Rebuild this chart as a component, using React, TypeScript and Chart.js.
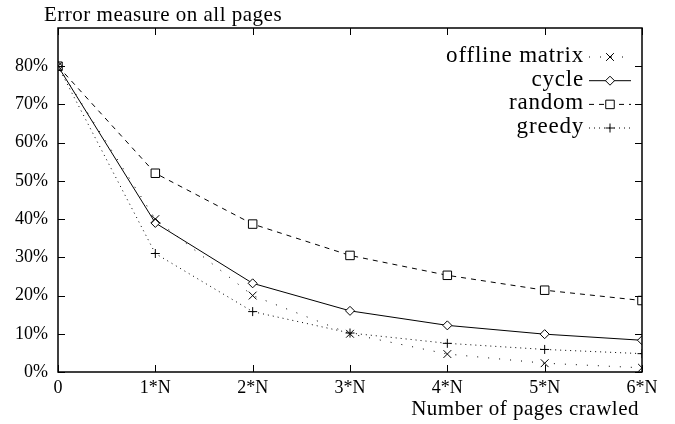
import React, { useEffect, useRef } from "react";
import { Chart, registerables } from "chart.js";

Chart.register(...registerables);

const xValues = [0, 1, 2, 3, 4, 5, 6];
const offlineMatrix = [80, 40, 20, 10, 4.7, 2.3, 1.1];
const cycle = [80, 39, 23.2, 16, 12.2, 9.9, 8.3];
const random = [80, 52, 38.7, 30.5, 25.3, 21.4, 18.7];
const greedy = [80, 31, 15.8, 10.2, 7.5, 5.9, 4.8];
const seriesNames = ["offline matrix", "cycle", "random", "greedy"];
const xTickLabels = ["0", "1*N", "2*N", "3*N", "4*N", "5*N", "6*N"];
const yTickLabels = ["0%", "10%", "20%", "30%", "40%", "50%", "60%", "70%", "80%"];
const chartTitle = "Error measure on all pages";
const xAxisTitle = "Number of pages crawled";

const FONT = '"Liberation Serif", "DejaVu Serif", serif';

type Marker = "crossRot" | "rectRot" | "rect" | "cross";
const styles: { dash: number[]; marker: Marker; radius: number }[] = [
  { dash: [1, 10], marker: "crossRot", radius: 5.5 },
  { dash: [], marker: "rectRot", radius: 4.5 },
  { dash: [5, 5], marker: "rect", radius: 6 },
  { dash: [1, 4], marker: "cross", radius: 4.5 },
];

function drawMarker(ctx: CanvasRenderingContext2D, m: Marker, x: number, y: number, r: number) {
  ctx.save();
  ctx.setLineDash([]);
  ctx.strokeStyle = "#000";
  ctx.fillStyle = "#fff";
  ctx.lineWidth = 1;
  ctx.beginPath();
  if (m === "crossRot") {
    const s = r * Math.SQRT1_2;
    ctx.moveTo(x - s, y - s); ctx.lineTo(x + s, y + s);
    ctx.moveTo(x - s, y + s); ctx.lineTo(x + s, y - s);
    ctx.stroke();
  } else if (m === "cross") {
    ctx.moveTo(x - r, y); ctx.lineTo(x + r, y);
    ctx.moveTo(x, y - r); ctx.lineTo(x, y + r);
    ctx.stroke();
  } else if (m === "rectRot") {
    ctx.moveTo(x - r, y); ctx.lineTo(x, y - r); ctx.lineTo(x + r, y); ctx.lineTo(x, y + r);
    ctx.closePath(); ctx.fill(); ctx.stroke();
  } else {
    const s = r * Math.SQRT1_2;
    ctx.rect(x - s, y - s, 2 * s, 2 * s);
    ctx.fill(); ctx.stroke();
  }
  ctx.restore();
}

const framePlugin = {
  id: "frame",
  afterDraw(chart: any) {
    const { ctx, chartArea } = chart;
    const { left, right, top, bottom } = chartArea;
    const xs = chart.scales.x;
    const ys = chart.scales.y;
    ctx.save();
    ctx.strokeStyle = "#000";
    ctx.lineWidth = 1.5;
    ctx.setLineDash([]);
    ctx.strokeRect(left, top, right - left, bottom - top);
    ctx.lineWidth = 1;
    ctx.beginPath();
    const tl = 7;
    xValues.forEach((v) => {
      const px = Math.round(xs.getPixelForValue(v)) + 0.5;
      ctx.moveTo(px, bottom); ctx.lineTo(px, bottom - tl);
      ctx.moveTo(px, top); ctx.lineTo(px, top + tl);
    });
    yTickLabels.forEach((_, i) => {
      const py = Math.round(ys.getPixelForValue(i * 10)) + 0.5;
      ctx.moveTo(left, py); ctx.lineTo(left + tl, py);
      ctx.moveTo(right, py); ctx.lineTo(right - tl, py);
    });
    ctx.stroke();

    // titles
    ctx.fillStyle = "#000";
    ctx.font = `21px ${FONT}`;
    (ctx as any).letterSpacing = "0.5px";
    ctx.textAlign = "left";
    ctx.textBaseline = "alphabetic";
    ctx.fillText(chartTitle, 44, 21);
    ctx.textAlign = "right";
    ctx.fillText(xAxisTitle, 639, 415);

    // legend
    const rows = [57, 80.7, 104.4, 128];
    chart.data.datasets.forEach((ds: any, i: number) => {
      const y = rows[i];
      ctx.font = `23px ${FONT}`;
      (ctx as any).letterSpacing = "0.8px";
      ctx.textAlign = "right";
      ctx.textBaseline = "alphabetic";
      ctx.fillStyle = "#000";
      ctx.fillText(ds.label, 584, y + 5);
      ctx.save();
      ctx.lineWidth = 1;
      ctx.setLineDash(styles[i].dash);
      ctx.beginPath();
      ctx.moveTo(589, y); ctx.lineTo(631, y);
      ctx.stroke();
      ctx.restore();
      drawMarker(ctx, styles[i].marker, 610, y, styles[i].radius);
    });
    (ctx as any).letterSpacing = "0px";
    ctx.restore();
  },
};

export default function App() {
  const ref = useRef<HTMLCanvasElement | null>(null);
  useEffect(() => {
    document.body.style.margin = "0";
    if (!ref.current) return;
    const all = [offlineMatrix, cycle, random, greedy];
    const chart = new Chart(ref.current, {
      type: "line",
      data: {
        datasets: all.map((vals, i) => ({
          label: seriesNames[i],
          data: vals.map((v, j) => ({ x: xValues[j], y: v })),
          borderColor: "#000",
          backgroundColor: "#fff",
          borderWidth: 1,
          borderDash: styles[i].dash,
          pointStyle: styles[i].marker,
          pointRadius: styles[i].radius,
          pointBorderColor: "#000",
          pointBackgroundColor: "#fff",
          pointBorderWidth: 1,
          tension: 0,
          fill: false,
        })),
      },
      options: {
        animation: false,
        responsive: false,
        maintainAspectRatio: false,
        layout: { padding: { top: 28, right: 33, left: 0, bottom: 0 } },
        plugins: {
          legend: { display: false },
          tooltip: { enabled: false },
          title: { display: false },
        },
        scales: {
          x: {
            type: "linear",
            min: 0,
            max: 6,
            grid: { display: false, drawTicks: false },
            border: { display: false },
            afterFit: (s: any) => { s.height = 52; },
            afterBuildTicks: (s: any) => { s.ticks = xValues.map((v) => ({ value: v })); },
            ticks: {
              padding: 5,
              color: "#000",
              font: { family: FONT, size: 18 },
              maxRotation: 0,
              autoSkip: false,
              callback: (v: any) => xTickLabels[xValues.indexOf(Number(v))] ?? "",
            },
          },
          y: {
            type: "linear",
            min: 0,
            max: 90,
            grid: { display: false, drawTicks: false },
            border: { display: false },
            afterFit: (s: any) => { s.width = 58; },
            ticks: {
              stepSize: 10,
              padding: 10,
              color: "#000",
              font: { family: FONT, size: 18 },
              callback: (v: any) => yTickLabels[Math.round(Number(v) / 10)] ?? "",
            },
          },
        },
      },
      plugins: [framePlugin],
    });
    return () => chart.destroy();
  }, []);
  return (
    <div style={{ width: 675, height: 424 }}>
      <canvas ref={ref} width={675} height={424} style={{ display: "block" }} />
    </div>
  );
}
